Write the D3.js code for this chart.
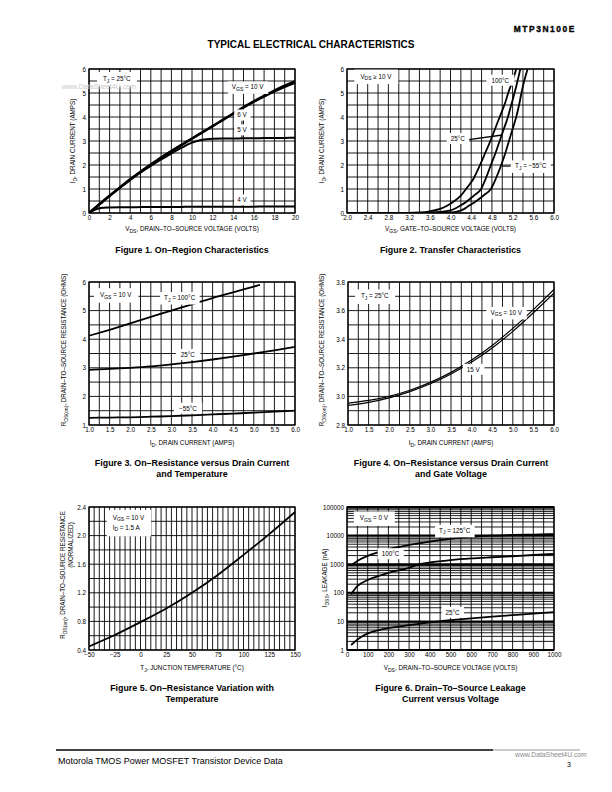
<!DOCTYPE html>
<html><head><meta charset="utf-8">
<script src="https://cdn.jsdelivr.net/npm/d3@7"></script>
<style>
body{margin:0;background:#fff}
svg{display:block}
text{font-family:"Liberation Sans",Arial,Helvetica,sans-serif;fill:#000}
</style>
</head><body>
<svg id="page" width="612" height="792"></svg>
<script>
// ---------------- DATA ----------------
// Figure 1: On-Region Characteristics (VDS volts -> ID amps)
const fig1Vds  = [0,1,2,3,4,5,6,7,8,9,10,11,12,13,14,15,16,17,18,19,20];
const fig1Vgs10 = [0,0.36,0.72,1.06,1.4,1.72,2.02,2.31,2.58,2.84,3.1,3.36,3.62,3.88,4.14,4.4,4.65,4.88,5.1,5.3,5.48];
const fig1Vgs6  = [0,0.36,0.72,1.06,1.4,1.72,2.02,2.31,2.58,2.84,3.1,3.36,3.62,3.88,4.14,4.4,4.63,4.85,5.06,5.25,5.42];
const fig1Vgs5  = [0,0.36,0.71,1.05,1.38,1.68,1.96,2.23,2.48,2.72,2.93,3.05,3.09,3.1,3.1,3.11,3.11,3.12,3.12,3.13,3.14];
const fig1Vgs4  = [0,0.2,0.23,0.24,0.24,0.245,0.25,0.25,0.25,0.255,0.26,0.26,0.26,0.26,0.265,0.265,0.265,0.27,0.27,0.27,0.27];
const fig1XTicks = [0,2,4,6,8,10,12,14,16,18,20];
const fig1YTicks = [0,1,2,3,4,5,6];

// Figure 2: Transfer Characteristics (VGS volts -> ID amps)
const fig2Vgs100 = [2.0,3.2,3.4,3.6,3.8,3.95,4.05,4.2,4.3,4.45,4.57,4.67,4.77,4.86,4.95,5.05,5.13,5.2,5.27];
const fig2Id100  = [0,0,0.02,0.07,0.17,0.32,0.46,0.72,1.0,1.45,2.0,2.5,3.0,3.5,4.0,4.55,5.1,5.5,6.0];
const fig2Vgs25  = [2.0,3.4,3.6,3.8,3.98,4.1,4.2,4.3,4.45,4.59,4.69,4.78,4.87,4.95,5.03,5.11,5.18,5.25,5.35];
const fig2Id25   = [0,0,0.02,0.05,0.1,0.2,0.32,0.46,0.72,1.0,1.48,2.0,2.5,3.0,3.5,4.0,4.55,5.1,6.0];
const fig2VgsM55 = [2.0,3.8,4.0,4.11,4.25,4.37,4.5,4.65,4.78,4.89,4.98,5.06,5.13,5.2,5.27,5.33,5.38,5.49];
const fig2IdM55  = [0,0,0.02,0.05,0.15,0.32,0.5,0.75,1.0,1.5,2.0,2.5,3.0,3.5,4.0,4.55,5.1,6.0];
const fig2XTicks = [2.0,2.4,2.8,3.2,3.6,4.0,4.4,4.8,5.2,5.6,6.0];
const fig2YTicks = [0,1,2,3,4,5,6];

// Figure 3: On-Resistance vs Drain Current and Temperature (ID amps -> ohms)
const fig3Id     = [1.0,1.5,2.0,2.5,3.0,3.5,4.0,4.5,5.0,5.5,6.0];
const fig3Id100  = [1.0,1.5,2.0,2.5,3.0,3.5,4.0,4.5,5.0,5.15];
const fig3R100   = [4.12,4.33,4.55,4.78,5.0,5.22,5.44,5.64,5.84,5.9];
const fig3R25    = [2.93,2.96,3.0,3.05,3.12,3.2,3.29,3.39,3.5,3.61,3.73];
const fig3RM55   = [1.25,1.26,1.27,1.29,1.31,1.34,1.37,1.4,1.43,1.47,1.5];
const fig3XTicks = [1.0,1.5,2.0,2.5,3.0,3.5,4.0,4.5,5.0,5.5,6.0];
const fig3YTicks = [1,2,3,4,5,6];

// Figure 4: On-Resistance vs Drain Current and Gate Voltage
const fig4Id     = [1.0,1.5,2.0,2.5,3.0,3.5,4.0,4.5,5.0,5.5,6.0];
const fig4R10    = [2.953,2.972,3.0,3.043,3.098,3.168,3.254,3.356,3.476,3.607,3.748];
const fig4R15    = [2.937,2.958,2.99,3.033,3.088,3.157,3.24,3.339,3.455,3.585,3.722];
const fig4XTicks = [1.0,1.5,2.0,2.5,3.0,3.5,4.0,4.5,5.0,5.5,6.0];
const fig4YTicks = [2.8,3.0,3.2,3.4,3.6,3.8];

// Figure 5: On-Resistance Variation with Temperature
const fig5Tj     = [-50,-25,0,25,50,75,100,125,150];
const fig5R      = [0.45,0.61,0.79,0.98,1.2,1.45,1.73,2.02,2.33];
const fig5XTicks = [-50,-25,0,25,50,75,100,125,150];
const fig5YTicks = [0.4,0.8,1.2,1.6,2.0,2.4];

// Figure 6: Drain-To-Source Leakage Current vs Voltage (VDS -> IDSS nA)
const fig6Vds    = [20,50,100,150,200,300,400,500,600,700,800,900,1000];
const fig6I125   = [900,1300,1950,2600,3300,4700,6200,7700,9000,9900,10500,10900,11300];
const fig6Vds100 = [20,50,100,150,200,300,350,400,500,600,700,800,900,1000];
const fig6I100   = [90,170,280,380,500,750,1000,1150,1400,1600,1750,1900,2100,2280];
const fig6I25    = [1.5,2.3,3.8,4.9,5.8,7.4,9.2,11,12.8,14.6,16.6,18.8,21];
const fig6XTicks = [0,100,200,300,400,500,600,700,800,900,1000];
const fig6YTicks = [1,10,100,1000,10000,100000];

// ---------------- DRAWING ----------------
const svg = d3.select('#page');

function addRich(sel, parts) {
  let shifted = false;
  parts.forEach(p => {
    const isSub = Array.isArray(p);
    const t = sel.append('tspan').text(isSub ? p[0] : p);
    if (isSub) {
      t.attr('font-size', '0.8em');
      if (!shifted) t.attr('dy', '0.3em');
      shifted = true;
    } else if (shifted) {
      t.attr('dy', '-0.24em');
      shifted = false;
    }
  });
  return sel;
}

function range(a, b, step) {
  const out = [];
  const n = Math.round((b - a) / step);
  for (let i = 0; i <= n; i++) out.push(+(a + i * step).toFixed(6));
  return out;
}

let clipId = 0;
function drawChart(c) {
  const g = svg.append('g');
  const x = d3.scaleLinear().domain(c.xDomain).range([c.left, c.right]);
  const y = (c.yLog ? d3.scaleLog() : d3.scaleLinear()).domain(c.yDomain).range([c.bottom, c.top]);

  // grid
  g.append('g').selectAll('line').data(c.xGrid).join('line')
    .attr('x1', d => x(d)).attr('x2', d => x(d))
    .attr('y1', c.top).attr('y2', c.bottom)
    .attr('stroke', '#000').attr('stroke-width', 0.9);
  g.append('g').selectAll('line').data(c.yGrid).join('line')
    .attr('x1', c.left).attr('x2', c.right)
    .attr('y1', d => y(d)).attr('y2', d => y(d))
    .attr('stroke', '#000')
    .attr('stroke-width', d => (c.yLog && Math.abs(Math.log10(d) - Math.round(Math.log10(d))) < 1e-9) ? 2 : 0.9);
  g.append('rect').attr('x', c.left).attr('y', c.top)
    .attr('width', c.right - c.left).attr('height', c.bottom - c.top)
    .attr('fill', 'none').attr('stroke', '#000').attr('stroke-width', 1.3);

  // axes (tick labels only)
  const xa = g.append('g').attr('transform', `translate(0,${c.bottom})`)
    .call(d3.axisBottom(x).tickValues(c.xTicks).tickFormat(c.xFmt).tickSize(0).tickPadding(3));
  const ya = g.append('g').attr('transform', `translate(${c.left},0)`)
    .call(d3.axisLeft(y).tickValues(c.yTicks).tickFormat(c.yFmt).tickSize(0).tickPadding(3));
  [xa, ya].forEach(a => {
    a.select('.domain').remove();
    a.selectAll('text').attr('font-family', '"Liberation Sans",Arial,sans-serif').attr('font-size', 6.3).attr('fill', '#000');
  });

  // clip
  const id = 'clip' + (clipId++);
  g.append('clipPath').attr('id', id).append('rect')
    .attr('x', c.left).attr('y', c.top).attr('width', c.right - c.left).attr('height', c.bottom - c.top);

  // series
  const line = d3.line().x(d => x(d[0])).y(d => y(d[1])).curve(d3.curveMonotoneX);
  const sg = g.append('g').attr('clip-path', `url(#${id})`);
  c.series.forEach(s => {
    const pts = s.x.map((v, i) => [v, s.y[i]]);
    sg.append('path').attr('d', line(pts)).attr('fill', 'none')
      .attr('stroke', '#000').attr('stroke-width', s.w || 2).attr('stroke-linejoin', 'round');
  });

  // leaders
  (c.leaders || []).forEach(l => {
    g.append('line').attr('x1', x(l[0])).attr('y1', y(l[1])).attr('x2', x(l[2])).attr('y2', y(l[3]))
      .attr('stroke', '#000').attr('stroke-width', l[4] || 1);
  });

  // labels with white boxes
  (c.labels || []).forEach(L => {
    const lg = g.append('g');
    const texts = L.lines.map((parts, i) => {
      const t = lg.append('text').attr('x', x(L.x)).attr('y', y(L.y) + i * 10)
        .attr('text-anchor', L.anchor || 'middle').attr('font-size', 6.3);
      return addRich(t, parts);
    });
    let bb = null;
    texts.forEach(t => {
      const b = t.node().getBBox();
      if (!bb) bb = {x0: b.x, y0: b.y, x1: b.x + b.width, y1: b.y + b.height};
      else { bb.x0 = Math.min(bb.x0, b.x); bb.y0 = Math.min(bb.y0, b.y); bb.x1 = Math.max(bb.x1, b.x + b.width); bb.y1 = Math.max(bb.y1, b.y + b.height); }
    });
    const px = L.padX != null ? L.padX : 3, py = L.padY != null ? L.padY : 2;
    lg.insert('rect', 'text').attr('x', bb.x0 - px).attr('y', bb.y0 - py)
      .attr('width', bb.x1 - bb.x0 + 2 * px).attr('height', bb.y1 - bb.y0 + 2 * py).attr('fill', '#fff');
  });

  // axis titles
  const xt = g.append('text').attr('x', (c.left + c.right) / 2).attr('y', c.xTitleY)
    .attr('text-anchor', 'middle').attr('font-size', 6.3);
  addRich(xt, c.xTitle);
  c.yTitles.forEach(yt => {
    const t = g.append('text').attr('transform', `translate(${yt.x},${yt.cy}) rotate(-90)`)
      .attr('text-anchor', 'middle').attr('font-size', 6.3);
    addRich(t, yt.parts);
  });

  // caption
  c.caption.forEach((cap, i) => {
    g.append('text').attr('x', (c.left + c.right) / 2).attr('y', c.captionY + i * 11)
      .attr('text-anchor', 'middle').attr('font-size', 8.9).attr('font-weight', 'bold').text(cap);
  });
}

const f1 = d => d3.format('d')(d);
const f1d = d => d3.format('.1f')(d);

// Figure 1
drawChart({
  left: 89, right: 295, top: 69, bottom: 213,
  xDomain: [0, 20], yDomain: [0, 6],
  xGrid: range(0, 20, 1), yGrid: range(0, 6, 0.5),
  xTicks: fig1XTicks, yTicks: fig1YTicks, xFmt: f1, yFmt: f1,
  series: [
    {x: fig1Vds, y: fig1Vgs4, w: 2},
    {x: fig1Vds, y: fig1Vgs5, w: 2},
    {x: fig1Vds, y: fig1Vgs6, w: 2},
    {x: fig1Vds, y: fig1Vgs10, w: 2.6}
  ],
  leaders: [[14.85, 3.85, 14.85, 3.58, 1], [14.85, 3.3, 14.85, 3.12, 1], [14.85, 0.38, 14.85, 0.28, 1]],
  labels: [
    {x: 2.7, y: 5.5, lines: [['T', ['J'], ' =  25°C']], padX: 6, padY: 3},
    {x: 15.4, y: 5.15, lines: [['V', ['GS'], ' = 10 V']], padX: 4},
    {x: 14.85, y: 3.98, lines: [['6 V']], padX: 3},
    {x: 14.85, y: 3.36, lines: [['5 V']], padX: 3},
    {x: 14.85, y: 0.44, lines: [['4 V']], padX: 3}
  ],
  xTitle: ['V', ['DS'], ', DRAIN–TO–SOURCE VOLTAGE (VOLTS)'], xTitleY: 231,
  yTitles: [{x: 75, cy: 141, parts: ['I', ['D'], ', DRAIN CURRENT (AMPS)']}],
  caption: ['Figure 1. On–Region Characteristics'], captionY: 253
});

// Figure 2
drawChart({
  left: 347, right: 554, top: 69, bottom: 213,
  xDomain: [2, 6], yDomain: [0, 6],
  xGrid: range(2, 6, 0.2), yGrid: range(0, 6, 0.5),
  xTicks: fig2XTicks, yTicks: fig2YTicks, xFmt: f1d, yFmt: f1,
  series: [
    {x: fig2Vgs100, y: fig2Id100, w: 1.8},
    {x: fig2Vgs25, y: fig2Id25, w: 1.8},
    {x: fig2VgsM55, y: fig2IdM55, w: 1.8}
  ],
  leaders: [[4.32, 3.05, 5.0, 3.25, 1.3], [5.0, 1.95, 5.16, 1.95, 1]],
  labels: [
    {x: 2.56, y: 5.6, lines: [['V', ['DS'], ' ≥ 10 V']], padX: 6, padY: 3},
    {x: 4.96, y: 5.43, lines: [['100°C']], padX: 5},
    {x: 4.14, y: 3.0, lines: [['25°C']], padX: 4},
    {x: 5.55, y: 1.86, lines: [['T', ['J'], ' =  −55°C']], padX: 4}
  ],
  xTitle: ['V', ['GS'], ', GATE–TO–SOURCE VOLTAGE (VOLTS)'], xTitleY: 231,
  yTitles: [{x: 324, cy: 141, parts: ['I', ['D'], ', DRAIN CURRENT (AMPS)']}],
  caption: ['Figure 2. Transfer Characteristics'], captionY: 253
});

// Figure 3
drawChart({
  left: 89, right: 295, top: 282, bottom: 425,
  xDomain: [1, 6], yDomain: [1, 6],
  xGrid: range(1, 6, 0.25), yGrid: range(1, 6, 0.5),
  xTicks: fig3XTicks, yTicks: fig3YTicks, xFmt: f1d, yFmt: f1,
  series: [
    {x: fig3Id100, y: fig3R100, w: 1.8},
    {x: fig3Id, y: fig3R25, w: 1.8},
    {x: fig3Id, y: fig3RM55, w: 1.8}
  ],
  labels: [
    {x: 1.65, y: 5.47, lines: [['V', ['GS'], ' = 10 V']], padX: 6, padY: 3},
    {x: 3.2, y: 5.37, lines: [['T', ['J'], ' = 100°C']], padX: 4},
    {x: 3.4, y: 3.38, lines: [['25°C']], padX: 5},
    {x: 3.4, y: 1.5, lines: [['−55°C']], padX: 5}
  ],
  xTitle: ['I', ['D'], ', DRAIN CURRENT (AMPS)'], xTitleY: 445,
  yTitles: [{x: 66, cy: 350, parts: ['R', ['DS(on)'], ', DRAIN–TO–SOURCE RESISTANCE (OHMS)']}],
  caption: ['Figure 3. On–Resistance versus Drain Current', 'and Temperature'], captionY: 466
});

// Figure 4
drawChart({
  left: 348, right: 554, top: 282, bottom: 425,
  xDomain: [1, 6], yDomain: [2.8, 3.8],
  xGrid: range(1, 6, 0.25), yGrid: range(2.8, 3.8, 0.1),
  xTicks: fig4XTicks, yTicks: fig4YTicks, xFmt: f1d, yFmt: f1d,
  series: [
    {x: fig4Id, y: fig4R10, w: 1.2},
    {x: fig4Id, y: fig4R15, w: 1.2}
  ],
  labels: [
    {x: 1.65, y: 3.685, lines: [['T', ['J'], ' =  25°C']], padX: 6, padY: 3},
    {x: 4.84, y: 3.57, lines: [['V', ['GS'], ' = 10 V']], padX: 4},
    {x: 4.04, y: 3.172, lines: [['15 V']], padX: 4}
  ],
  xTitle: ['I', ['D'], ', DRAIN CURRENT (AMPS)'], xTitleY: 445,
  yTitles: [{x: 324, cy: 350, parts: ['R', ['DS(on)'], ', DRAIN–TO–SOURCE RESISTANCE (OHMS)']}],
  caption: ['Figure 4. On–Resistance versus Drain Current', 'and Gate Voltage'], captionY: 466
});

// Figure 5
drawChart({
  left: 89, right: 295, top: 507, bottom: 650,
  xDomain: [-50, 150], yDomain: [0.4, 2.4],
  xGrid: range(-50, 150, 5), yGrid: range(0.4, 2.4, 0.2),
  xTicks: fig5XTicks, yTicks: fig5YTicks, xFmt: d => d < 0 ? '−' + Math.abs(d) : String(d), yFmt: f1d,
  series: [{x: fig5Tj, y: fig5R, w: 1.8}],
  labels: [
    {x: -27, y: 2.22, lines: [['V', ['GS'], ' = 10 V'], ['I', ['D'], ' = 1.5 A']], anchor: 'start', padX: 6, padY: 4}
  ],
  xTitle: ['T', ['J'], ', JUNCTION TEMPERATURE (°C)'], xTitleY: 670,
  yTitles: [
    {x: 65, cy: 575, parts: ['R', ['DS(on)'], ', DRAIN–TO–SOURCE RESISTANCE']},
    {x: 73, cy: 545, parts: ['(NORMALIZED)']}
  ],
  caption: ['Figure 5. On–Resistance Variation with', 'Temperature'], captionY: 691
});

// Figure 6
const fig6Grid = [];
[1, 10, 100, 1000, 10000].forEach(dec => { for (let k = 1; k <= 9; k++) fig6Grid.push(k * dec); });
fig6Grid.push(100000);
drawChart({
  left: 347, right: 554, top: 507, bottom: 650,
  xDomain: [0, 1000], yDomain: [1, 100000], yLog: true,
  xGrid: range(0, 1000, 50), yGrid: fig6Grid,
  xTicks: fig6XTicks, yTicks: fig6YTicks, xFmt: f1, yFmt: f1,
  series: [
    {x: fig6Vds, y: fig6I125, w: 1.8},
    {x: fig6Vds100, y: fig6I100, w: 1.8},
    {x: fig6Vds, y: fig6I25, w: 1.8}
  ],
  labels: [
    {x: 130, y: 34000, lines: [['V', ['GS'], ' = 0 V']], padX: 6, padY: 3},
    {x: 520, y: 12500, lines: [['T', ['J'], ' =  125°C']], padX: 4},
    {x: 210, y: 1900, lines: [['100°C']], padX: 4},
    {x: 510, y: 17, lines: [['25°C']], padX: 4}
  ],
  xTitle: ['V', ['DS'], ', DRAIN–TO–SOURCE VOLTAGE (VOLTS)'], xTitleY: 670,
  yTitles: [{x: 327, cy: 578, parts: ['I', ['DSS'], ', LEAKAGE (nA)']}],
  caption: ['Figure 6. Drain–To–Source Leakage', 'Current versus Voltage'], captionY: 691
});

// ---------------- PAGE TEXT ----------------
svg.append('text').attr('x', 576).attr('y', 32).attr('text-anchor', 'end')
  .attr('font-size', 8.4).attr('font-weight', 'bold').attr('letter-spacing', 1.6)
  .attr('stroke', '#000').attr('stroke-width', 0.35).text('MTP3N100E');
svg.append('text').attr('x', 311).attr('y', 48).attr('text-anchor', 'middle')
  .attr('font-size', 10).attr('font-weight', 'bold').text('TYPICAL ELECTRICAL CHARACTERISTICS');
// watermark
svg.append('text').attr('x', 62).attr('y', 89).attr('font-size', 7).style('fill', '#c8c8c8').text('www.DataSheet4U.com');
// footer
svg.append('line').attr('x1', 56).attr('x2', 493).attr('y1', 750).attr('y2', 750).attr('stroke', '#000').attr('stroke-width', 1.6);
svg.append('line').attr('x1', 493).attr('x2', 580).attr('y1', 750).attr('y2', 750).attr('stroke', '#999').attr('stroke-width', 1.2);
svg.append('text').attr('x', 58).attr('y', 764).attr('font-size', 9).text('Motorola TMOS Power MOSFET Transistor Device Data');
svg.append('text').attr('x', 515).attr('y', 757).attr('font-size', 6.8).style('fill', '#8a8a8a').text('www.DataSheet4U.com');
svg.append('text').attr('x', 567).attr('y', 767).attr('font-size', 7).text('3');
</script>
</body></html>
